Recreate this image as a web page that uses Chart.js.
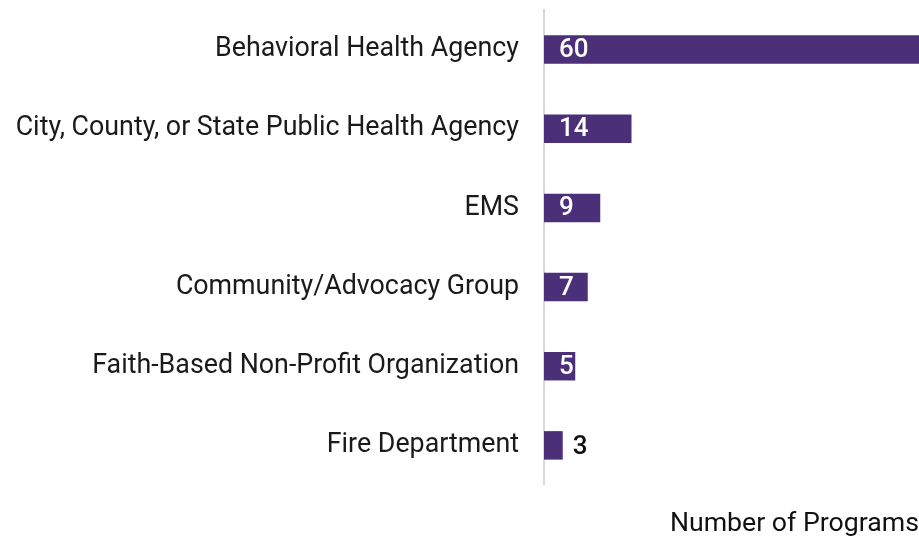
<!DOCTYPE html>
<html>
<head>
<meta charset="utf-8">
<script src="https://cdn.jsdelivr.net/npm/chart.js@4"></script>
<style>
  html, body { margin: 0; padding: 0; background: #fff; }
  #wrap { width: 919px; height: 540px; }
</style>
</head>
<body>
<div id="wrap"><canvas id="programsChart" width="919" height="540"></canvas></div>
<script>
var agencyLabels = [
    'Behavioral Health Agency',
    'City, County, or State Public Health Agency',
    'EMS',
    'Community/Advocacy Group',
    'Faith-Based Non-Profit Organization',
    'Fire Department'
];
var programCounts = [60, 14, 9, 7, 5, 3];
var axisTitle = 'Number of Programs';

var barColor = '#4b3079';

// value labels: inside the bar in white, outside in black when the bar is too short
var valueLabels = {
    id: 'valueLabels',
    afterDatasetsDraw: function(chart){
        var ctx = chart.ctx;
        var meta = chart.getDatasetMeta(0);
        ctx.save();
        ctx.font = '500 26px Roboto';
        ctx.textBaseline = 'middle';
        ctx.textAlign = 'left';
        meta.data.forEach(function(bar, i){
            var text = String(programCounts[i]);
            var w = ctx.measureText(text).width;
            var barWidth = bar.x - bar.base;
            if (barWidth > w + 16) {
                ctx.fillStyle = '#ffffff';
                ctx.fillText(text, bar.base + 15, bar.y + 1);
            } else {
                ctx.fillStyle = '#111111';
                ctx.fillText(text, bar.x + 10, bar.y + 2);
            }
        });
        ctx.restore();
    }
};

new Chart(document.getElementById('programsChart').getContext('2d'), {
    type: 'bar',
    data: {
        labels: agencyLabels,
        datasets: [{
            data: programCounts,
            backgroundColor: barColor,
            borderWidth: 0,
            barPercentage: 0.36,
            categoryPercentage: 1
        }]
    },
    options: {
        indexAxis: 'y',
        responsive: false,
        animation: false,
        layout: { padding: { top: 10, right: 0, bottom: 0, left: 16 } },
        plugins: {
            legend: { display: false },
            tooltip: { enabled: false }
        },
        scales: {
            x: {
                min: 0,
                max: 60,
                grid: { display: false, drawTicks: false },
                border: { display: false },
                ticks: { display: false },
                title: {
                    display: true,
                    text: axisTitle,
                    align: 'end',
                    color: '#111111',
                    font: { family: 'Roboto', size: 26.7 },
                    padding: { top: 23, bottom: 0 }
                }
            },
            y: {
                grid: { display: false, drawTicks: false },
                border: { display: true, color: '#d9d9d9', width: 2 },
                ticks: {
                    color: '#1a1a1a',
                    font: { family: 'Roboto', size: 26.8 },
                    padding: 25
                },
                afterFit: function(scale){
                    // long labels: keep the full width, no extra top/bottom room
                    scale.width = 528;
                    scale.paddingTop = 0;
                    scale.paddingBottom = 0;
                }
            }
        }
    },
    plugins: [valueLabels]
});
</script>
</body>
</html>
